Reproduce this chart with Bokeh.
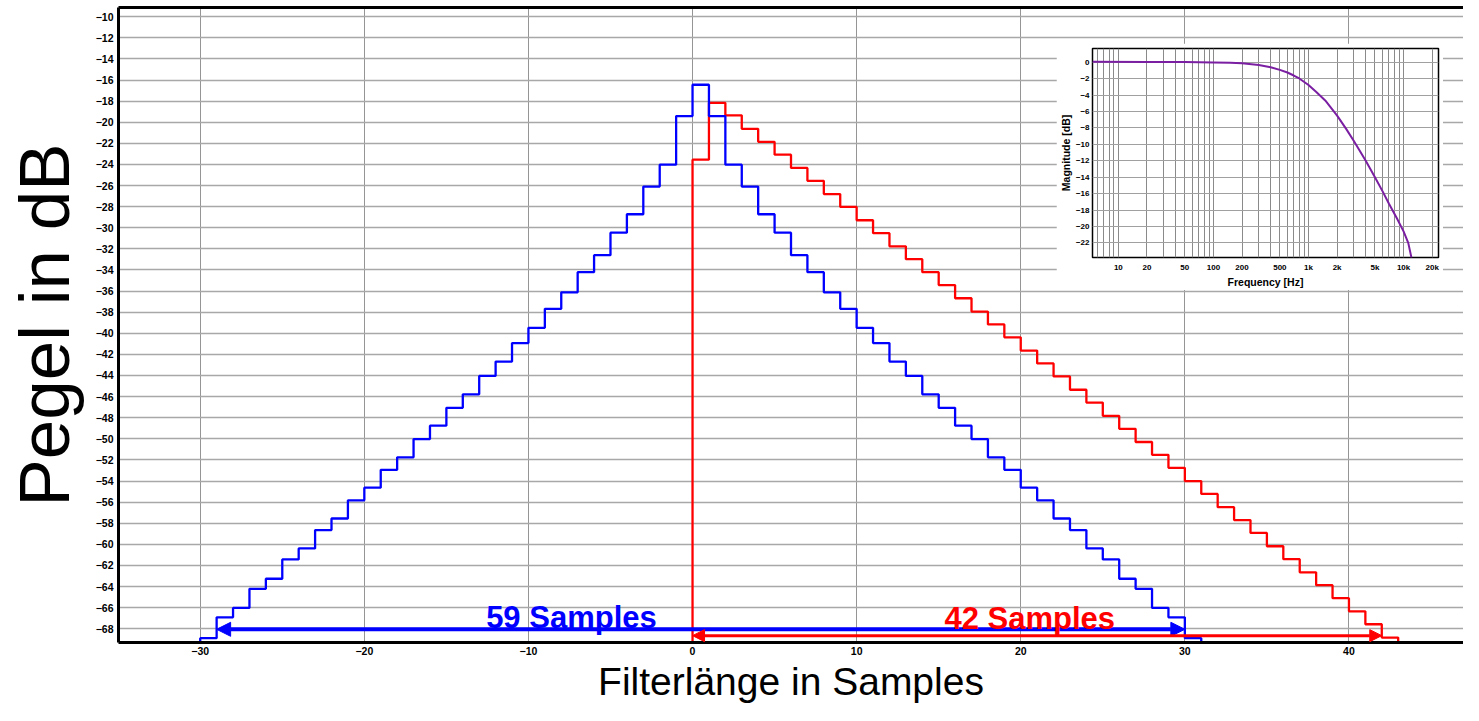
from bokeh.plotting import figure
from bokeh.layouts import column
from bokeh.models import (FixedTicker, Label, Arrow, NormalHead, GridBox, Range1d,
                          LinearAxis)
from bokeh.embed import file_html
from bokeh.resources import INLINE

# ---------------- data ----------------
# sample index for each level (step drawn from n to n+1); outer values lie below the chart
blue_samples = list(range(-31, 32))
blue_levels = [-100.0,
               -68.89, -66.91, -66.02, -64.21, -63.26, -61.43, -60.39, -58.65, -57.55, -55.83,
               -54.63, -52.94, -51.75, -50.02, -48.75, -47.06, -45.78, -44.04, -42.68, -40.93,
               -39.48, -37.68, -36.12, -34.21, -32.60, -30.47, -28.72, -26.10, -24.02, -19.42,
               -16.45,
               -19.42, -24.02, -26.10, -28.72, -30.47, -32.60, -34.21, -36.12, -37.68, -39.48,
               -40.93, -42.68, -44.04, -45.78, -47.06, -48.75, -50.02, -51.75, -52.94, -54.63,
               -55.83, -57.55, -58.65, -60.39, -61.43, -63.26, -64.21, -66.02, -66.91, -68.89,
               -100.0]

red_samples = list(range(-1, 44))
red_levels = [-100.0,
              -23.55, -18.16, -19.35, -20.63, -21.86, -23.08, -24.33, -25.55, -26.81, -28.03,
              -29.29, -30.51, -31.76, -32.98, -34.21, -35.43, -36.68, -37.94, -39.16, -40.38,
              -41.64, -42.86, -44.09, -45.35, -46.57, -47.82, -49.05, -50.30, -51.52, -52.75,
              -54.00, -55.22, -56.48, -57.70, -58.92, -60.18, -61.40, -62.65, -63.87, -65.10,
              -66.35, -67.57, -68.83,
              -100.0]

blue_span = [-29, 30]     # "59 Samples"
blue_span_level = -68.05
red_span = [0, 42]        # "42 Samples"
red_span_level = -68.65

x_ticks = [-30, -20, -10, 0, 10, 20, 30, 40]
y_ticks = [-10, -12, -14, -16, -18, -20, -22, -24, -26, -28, -30, -32, -34, -36, -38,
           -40, -42, -44, -46, -48, -50, -52, -54, -56, -58, -60, -62, -64, -66, -68]

# inset: magnitude response
freq_hz = [5.35, 20, 50, 100, 150, 200, 300, 400, 500, 600, 700, 800, 1000, 1200, 1500,
           2000, 2500, 3000, 4000, 5000, 6000, 7000, 8500, 10000, 11200, 12100]
mag_db = [0.05, 0.04, 0.02, -0.02, -0.06, -0.14, -0.33, -0.62, -0.93, -1.25, -1.62, -1.98,
          -2.78, -3.6, -4.65, -6.5, -8.15, -9.6, -12.0, -14.0, -15.7, -17.2, -19.0, -20.6,
          -22.0, -23.8]
inset_x_ticks = [10, 20, 50, 100, 200, 500, 1000, 2000, 5000, 10000, 20000]
inset_x_labels = ["10", "20", "50", "100", "200", "500", "1k", "2k", "5k", "10k", "20k"]
inset_y_ticks = [0, -2, -4, -6, -8, -10, -12, -14, -16, -18, -20, -22]

FONT = "Liberation Sans"
BLUE = "#0000ff"
RED = "#ff0000"

# ---------------- main figure ----------------
p = figure(width=1463, height=705, output_backend="svg", toolbar_location=None,
           x_range=Range1d(-34.98, 46.98), y_range=Range1d(-69.3, -9.13),
           min_border_left=118, min_border_right=0, min_border_top=7, min_border_bottom=63)
p.background_fill_color = "white"
p.border_fill_color = "white"
p.outline_line_color = None

bottom_ax = p.below[0]
left_ax = p.left[0]

top_axis = LinearAxis(ticker=FixedTicker(ticks=[]), major_label_text_font_size="0px",
                      major_label_standoff=0, major_tick_out=0, major_tick_in=0,
                      minor_tick_out=0, minor_tick_in=0,
                      axis_line_color="black", axis_line_width=3)
p.add_layout(top_axis, "above")

bottom_ax.ticker = FixedTicker(ticks=x_ticks)
left_ax.ticker = FixedTicker(ticks=y_ticks)
for ax in [bottom_ax, left_ax]:
    ax.axis_line_color = "black"
    ax.axis_line_width = 3
    ax.major_tick_out = 0
    ax.major_tick_in = 0
    ax.minor_tick_out = 0
    ax.minor_tick_in = 0
    ax.major_label_text_font = FONT
    ax.major_label_text_font_style = "bold"
    ax.major_label_text_font_size = "10.5px"
    ax.major_label_text_color = "black"
    ax.axis_label_text_font = FONT
    ax.axis_label_text_font_style = "normal"
    ax.axis_label_text_color = "black"
bottom_ax.major_label_standoff = 4
left_ax.major_label_standoff = 5
bottom_ax.axis_label = "Filterlänge in Samples"
bottom_ax.axis_label_text_font_size = "39px"
bottom_ax.axis_label_standoff = 2
left_ax.axis_label = "Pegel in dB"
left_ax.axis_label_text_font_size = "71px"
left_ax.axis_label_standoff = 9

p.xgrid.ticker = FixedTicker(ticks=x_ticks)
p.ygrid.ticker = FixedTicker(ticks=y_ticks)
p.xgrid.grid_line_color = "#959595"
p.ygrid.grid_line_color = "#a8a8a8"
p.xgrid.grid_line_width = 1
p.ygrid.grid_line_width = 1.3

p.step(red_samples, red_levels, mode="after", line_color=RED, line_width=2.3)
p.step(blue_samples, blue_levels, mode="after", line_color=BLUE, line_width=2.3)

p.add_layout(Arrow(start=NormalHead(size=14, fill_color=BLUE, line_color=BLUE, line_width=1),
                   end=NormalHead(size=14, fill_color=BLUE, line_color=BLUE, line_width=1),
                   x_start=blue_span[0], y_start=blue_span_level,
                   x_end=blue_span[1], y_end=blue_span_level,
                   line_color=BLUE, line_width=4))
p.add_layout(Arrow(start=NormalHead(size=12, fill_color=RED, line_color=RED, line_width=1),
                   end=NormalHead(size=12, fill_color=RED, line_color=RED, line_width=1),
                   x_start=red_span[0], y_start=red_span_level,
                   x_end=red_span[1], y_end=red_span_level,
                   line_color=RED, line_width=3))

p.add_layout(Label(x=-7.38, y=-66.9, text="59 Samples", text_align="center",
                   text_baseline="alphabetic", text_font=FONT, text_font_style="bold",
                   text_font_size="31px", text_color=BLUE))
p.add_layout(Label(x=20.55, y=-67.0, text="42 Samples", text_align="center",
                   text_baseline="alphabetic", text_font=FONT, text_font_style="bold",
                   text_font_size="31px", text_color=RED))

# ---------------- inset ----------------
inset = figure(width=387, height=247, output_backend="svg", toolbar_location=None,
               x_axis_type="log", x_range=Range1d(5.35, 23300), y_range=Range1d(-23.78, 1.67),
               min_border_left=36, min_border_right=5, min_border_top=5, min_border_bottom=33)
inset.background_fill_color = "white"
inset.border_fill_color = "white"
inset.outline_line_color = "black"
inset.outline_line_width = 1.5

inset.line(freq_hz, mag_db, line_color="#7b1fa2", line_width=2)

inset.xaxis.ticker = FixedTicker(ticks=inset_x_ticks)
inset.xaxis.major_label_overrides = {t: s for t, s in zip(inset_x_ticks, inset_x_labels)}
inset.yaxis.ticker = FixedTicker(ticks=inset_y_ticks)
grid_freqs = [m * 10 ** e for e in range(0, 5) for m in range(1, 10) if 5.35 < m * 10 ** e < 23300]
inset.xgrid.ticker = FixedTicker(ticks=grid_freqs)
inset.ygrid.ticker = FixedTicker(ticks=inset_y_ticks)
inset.xgrid.grid_line_color = "#8a8a8a"
inset.ygrid.grid_line_color = "#a0a0a0"
inset.xaxis.axis_label = "Frequency [Hz]"
inset.yaxis.axis_label = "Magnitude [dB]"
for ax in inset.axis:
    ax.axis_line_color = None
    ax.major_tick_out = 0
    ax.major_tick_in = 0
    ax.minor_tick_out = 0
    ax.minor_tick_in = 0
    ax.major_label_text_font = FONT
    ax.major_label_text_font_style = "bold"
    ax.major_label_text_font_size = "8px"
    ax.major_label_text_color = "black"
    ax.axis_label_text_font = FONT
    ax.axis_label_text_font_style = "bold"
    ax.axis_label_text_font_size = "10.5px"
    ax.axis_label_text_color = "black"
    ax.axis_label_standoff = 1
inset.xaxis.major_label_standoff = 5
inset.yaxis.major_label_standoff = 3

main_box = column(p)
inset_box = column(inset)
inset_box.margin = (43, 0, 0, 1056)

layout = GridBox(children=[(main_box, 0, 0), (inset_box, 0, 0)])

open("out.html", "w").write(file_html(layout, INLINE))
